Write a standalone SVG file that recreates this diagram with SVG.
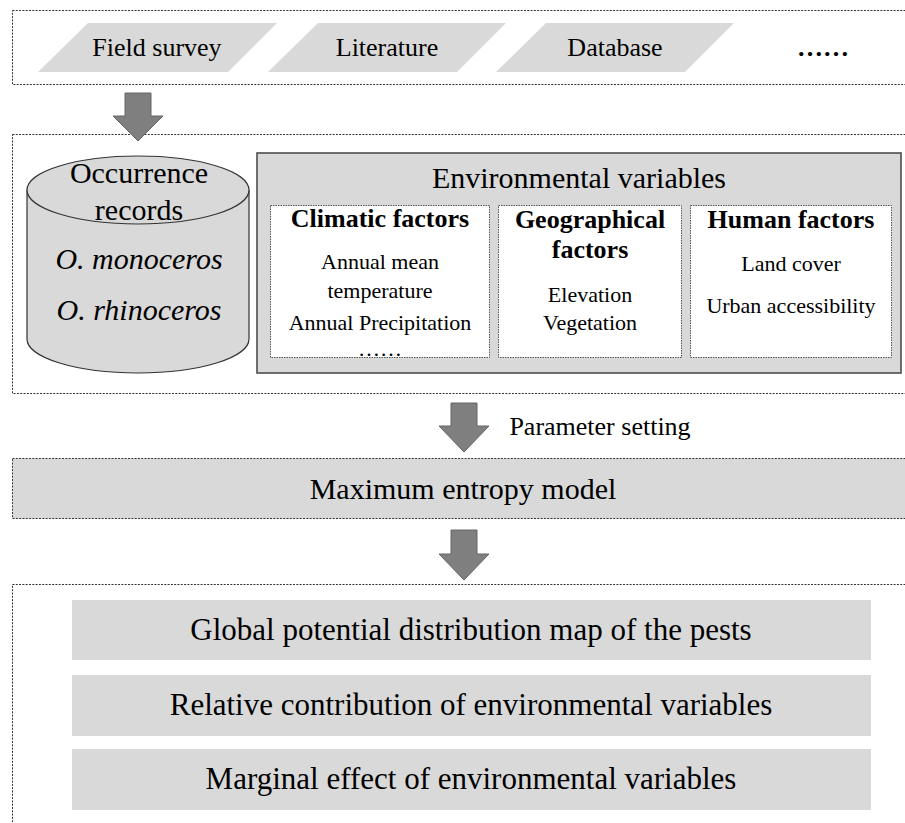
<svg xmlns="http://www.w3.org/2000/svg" width="905" height="823" viewBox="0 0 905 823">
<style>
text{font-family:"Liberation Serif","Times New Roman",serif;fill:#000;text-anchor:middle}
.dot{fill:none;stroke:#333;stroke-width:1;stroke-dasharray:2 1.3}
.dotf{fill:#d9d9d9;stroke:#333;stroke-width:1;stroke-dasharray:2 1.3}
.gray{fill:#d9d9d9}
.sub{fill:#fff;stroke:#555;stroke-width:1;stroke-dasharray:1.5 1}
.arrow{fill:#7f7f7f;stroke:#666;stroke-width:1}
.t26{font-size:26px}
.t30{font-size:30px}
.t31{font-size:31px}
.b26{font-size:26px;font-weight:bold}
.t22{font-size:22px}
</style>

<g id="sources">
  <rect class="dot" x="12.5" y="10.5" width="900" height="74"/>
  <g id="field-survey">
    <polygon class="gray" points="38,72 88,23 277,23 228,72"/>
    <text class="t26" x="157" y="56">Field survey</text>
  </g>
  <g id="literature">
    <polygon class="gray" points="268,72 318,23 506,23 457,72"/>
    <text class="t26" x="387" y="56">Literature</text>
  </g>
  <g id="database">
    <polygon class="gray" points="496,72 546,23 734,23 685,72"/>
    <text class="t26" x="615" y="56">Database</text>
  </g>
  <g id="more-sources">
    <text class="b26" x="823" y="56">……</text>
  </g>
</g>

<g id="inputs">
  <rect class="dot" x="12.5" y="134.5" width="900" height="259"/>
</g>

<g id="occurrence-records">
  <path d="M27,190 L27,339 A111,34 0 0 0 249,339 L249,190" fill="#d9d9d9" stroke="#333" stroke-width="1.2"/>
  <ellipse cx="138" cy="190" rx="111" ry="34" fill="#d9d9d9" stroke="#333" stroke-width="1.2"/>
  <text class="t30" x="139" y="183">Occurrence</text>
  <text class="t30" x="139" y="220">records</text>
  <text class="t30" x="139" y="269" font-style="italic">O. monoceros</text>
  <text class="t30" x="139" y="320" font-style="italic">O. rhinoceros</text>
</g>

<g id="environmental-variables">
  <rect x="257" y="153" width="644" height="220" fill="#d9d9d9" stroke="#4d4d4d" stroke-width="1.6"/>
  <text class="t30" x="579" y="188">Environmental variables</text>
</g>

<g id="climatic-factors">
  <rect class="sub" x="270.5" y="205.5" width="219" height="152"/>
  <text class="b26" x="380" y="227">Climatic factors</text>
  <text class="t22" x="380" y="269">Annual mean</text>
  <text class="t22" x="380" y="298">temperature</text>
  <text class="t22" x="380" y="330">Annual Precipitation</text>
  <text class="t22" x="380" y="356">……</text>
</g>

<g id="geographical-factors">
  <rect class="sub" x="498.5" y="205.5" width="183" height="152"/>
  <text class="b26" x="590" y="228">Geographical</text>
  <text class="b26" x="590" y="258">factors</text>
  <text class="t22" x="590" y="302">Elevation</text>
  <text class="t22" x="590" y="330">Vegetation</text>
</g>

<g id="human-factors">
  <rect class="sub" x="690.5" y="205.5" width="201" height="152"/>
  <text class="b26" x="791" y="228">Human factors</text>
  <text class="t22" x="791" y="271">Land cover</text>
  <text class="t22" x="791" y="313">Urban accessibility</text>
</g>

<g id="maxent">
  <rect class="dotf" x="12.5" y="458.5" width="900" height="60"/>
  <text class="t30" x="463" y="499">Maximum entropy model</text>
</g>

<g id="outputs">
  <rect class="dot" x="12.5" y="584.5" width="900" height="260"/>
  <g id="output-map">
    <rect class="gray" x="72" y="600" width="799" height="60"/>
    <text class="t31" x="471" y="640">Global potential distribution map of the pests</text>
  </g>
  <g id="output-contribution">
    <rect class="gray" x="72" y="675" width="799" height="61"/>
    <text class="t31" x="471" y="715">Relative contribution of environmental variables</text>
  </g>
  <g id="output-marginal">
    <rect class="gray" x="72" y="749" width="799" height="61"/>
    <text class="t31" x="471" y="789">Marginal effect of environmental variables</text>
  </g>
</g>

<g id="connectors">
  <path class="arrow" d="M125,93 H151 V116 H163 L138,141 L113,116 H125 Z"/>
  <path class="arrow" d="M451,403 H477 V426 H489 L464,452 L439,426 H451 Z"/>
  <text class="t26" x="600" y="435">Parameter setting</text>
  <path class="arrow" d="M451,530 H477 V554 H489 L464,580 L439,554 H451 Z"/>
</g>
</svg>
